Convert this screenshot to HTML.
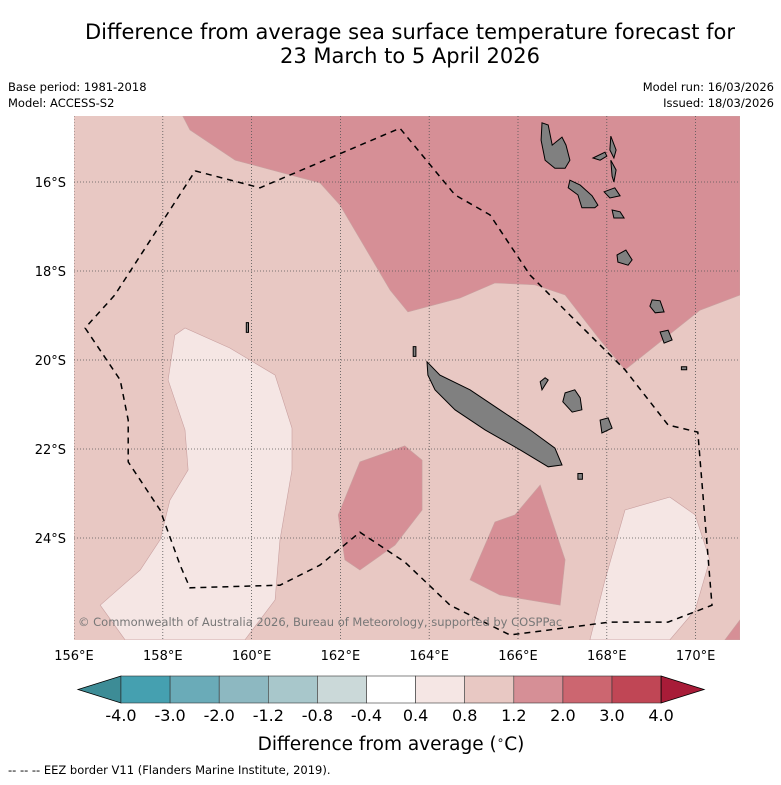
<!DOCTYPE html>
<html><head><meta charset="utf-8"><style>
body{margin:0;background:#fff;width:781px;height:781px;overflow:hidden;font-family:"DejaVu Sans",sans-serif}
svg text{font-family:"DejaVu Sans","Liberation Sans",sans-serif}
</style></head><body>
<svg id="chart" width="781" height="781" xmlns="http://www.w3.org/2000/svg">
<text x="410" y="39" font-size="21" text-anchor="middle">Difference from average sea surface temperature forecast for</text>
<text x="410" y="63" font-size="21" text-anchor="middle">23 March to 5 April 2026</text>
<text x="8" y="91" font-size="11.5">Base period: 1981-2018</text>
<text x="8" y="107" font-size="11.5">Model: ACCESS-S2</text>
<text x="774" y="91" font-size="11.5" text-anchor="end">Model run: 16/03/2026</text>
<text x="774" y="107" font-size="11.5" text-anchor="end">Issued: 18/03/2026</text>
<defs><clipPath id="mc"><rect x="74" y="116" width="666" height="524"/></clipPath></defs>
<g id="map" clip-path="url(#mc)"></g>
<text x="78" y="626" font-size="11.5" fill="#777">© Commonwealth of Australia 2026, Bureau of Meteorology, supported by COSPPac</text>
<g id="axes"></g>
<g id="cbar"></g>
<text x="391" y="750" font-size="18.5" text-anchor="middle">Difference from average (<tspan font-size="12" dy="-6">∘</tspan><tspan dy="6">C)</tspan></text>
<text x="8" y="774" font-size="11.5">--  --  -- EEZ border V11 (Flanders Marine Institute, 2019).</text>
</svg>
<script>
const NS="http://www.w3.org/2000/svg";
// Map data (lon °E, lat °S)
const lonTicks=[156,158,160,162,164,166,168,170];
const latTicks=[16,18,20,22,24];
const redNorthLon=[158.45,158.61,159.63,161.54,161.99,163.12,163.52,164.69,165.48,166.38,167.06,167.85,168.41,170.1,171.0,171.0];
const redNorthLat=[14.52,14.83,15.51,16.02,16.52,18.43,18.92,18.61,18.27,18.31,18.54,19.55,20.22,18.88,18.54,14.52];
const lightWestLon=[156.59,157.49,157.94,158.16,158.57,158.5,158.12,158.27,158.5,159.51,160.53,160.91,160.91,160.64,160.53,159.85,157.15];
const lightWestLat=[25.51,24.72,24.04,23.15,22.47,21.57,20.45,19.44,19.28,19.73,20.34,21.53,22.47,24.04,25.39,26.29,26.29];
const redMidLon=[161.95,162.1,162.44,163.23,163.84,163.84,163.45,162.44];
const redMidLat=[23.48,24.49,24.72,24.16,23.37,22.25,21.93,22.29];
const redSouthLon=[164.92,165.59,166.95,167.06,166.5,165.93,165.48];
const redSouthLat=[24.94,25.28,25.51,24.49,22.81,23.48,23.64];
const lightEastLon=[167.62,167.96,168.41,169.42,169.99,170.32,169.99,169.42];
const lightEastLat=[26.29,24.94,23.37,23.08,23.48,24.49,25.62,26.29];
const redCornerLon=[170.66,171,171];
const redCornerLat=[26.29,25.84,26.29];
const eezLon=[158.73,160.19,163.34,164.58,165.37,166.27,167.17,168.41,169.38,170.05,170.37,169.38,168.07,165.82,164.47,163.45,162.44,161.54,160.64,158.61,158.39,157.94,157.22,157.22,157.04,156.25,156.92,158.73];
const eezLat=[15.75,16.13,14.79,16.29,16.74,18.09,18.99,20.22,21.46,21.62,25.51,25.89,25.89,26.18,25.51,24.54,23.87,24.61,25.06,25.12,24.61,23.37,22.29,21.35,20.45,19.28,18.54,15.75];
const islands=[
 {name:"new-caledonia",lon:[163.95,164.24,164.92,165.59,166.27,166.83,166.99,166.68,166.05,165.26,164.58,164.13,163.97],lat:[20.04,20.34,20.67,21.12,21.57,21.98,22.36,22.4,22.02,21.57,21.12,20.67,20.34]},
 {name:"espiritu-santo",lon:[166.54,166.68,166.77,166.99,167.08,167.17,167.06,166.83,166.61,166.52],lat:[14.67,14.72,15.17,14.99,15.17,15.51,15.69,15.69,15.51,15.06]},
 {name:"malekula",lon:[167.17,167.4,167.67,167.8,167.73,167.44,167.35,167.13],lat:[15.96,16.07,16.31,16.52,16.58,16.58,16.29,16.13]},
 {name:"pentecost-north",lon:[168.09,168.21,168.16,168.07],lat:[14.97,15.28,15.46,15.28]},
 {name:"ambae",lon:[167.69,167.96,168.0,167.85],lat:[15.46,15.33,15.42,15.51]},
 {name:"maewo",lon:[168.09,168.21,168.16,168.12],lat:[15.51,15.73,16.0,15.87]},
 {name:"ambrym",lon:[167.94,168.18,168.3,168.07],lat:[16.22,16.13,16.31,16.36]},
 {name:"epi",lon:[168.12,168.3,168.39,168.16],lat:[16.63,16.67,16.81,16.81]},
 {name:"efate",lon:[168.23,168.43,168.57,168.48,168.25],lat:[17.64,17.53,17.75,17.87,17.8]},
 {name:"erromango",lon:[169.02,169.2,169.29,169.09,168.97],lat:[18.65,18.67,18.92,18.94,18.79]},
 {name:"tanna",lon:[169.2,169.38,169.47,169.29],lat:[19.37,19.33,19.55,19.62]},
 {name:"aneityum",lon:[169.68,169.8,169.8,169.68],lat:[20.15,20.15,20.22,20.22]},
 {name:"ouvea",lon:[166.5,166.61,166.68,166.54],lat:[20.49,20.4,20.45,20.67]},
 {name:"lifou",lon:[167.06,167.28,167.4,167.44,167.22,167.01],lat:[20.74,20.67,20.85,21.12,21.17,20.94]},
 {name:"mare",lon:[167.85,168.03,168.12,167.89],lat:[21.35,21.3,21.53,21.64]},
 {name:"isle-of-pines",lon:[167.35,167.45,167.45,167.35],lat:[22.55,22.55,22.68,22.68]},
 {name:"chesterfield",lon:[159.88,159.93,159.93,159.88],lat:[19.16,19.16,19.38,19.38]},
 {name:"belep",lon:[163.64,163.7,163.7,163.64],lat:[19.7,19.7,19.92,19.92]}
];
// Colorbar data
const cbTicks=["-4.0","-3.0","-2.0","-1.2","-0.8","-0.4","0.4","0.8","1.2","2.0","3.0","4.0"];
const cbColors=["#45a0b0","#6aabb8","#8db8c1","#a8c7cb","#cbd9d9","#ffffff","#f5e6e4","#e8c8c3","#d68f96","#cc6670","#c04655"];

const X=lon=>74+(lon-156)*44.4, Y=lat=>182+(lat-16)*44.5;
function el(t,a,p){const e=document.createElementNS(NS,t);for(const k in a)e.setAttribute(k,a[k]);p.appendChild(e);return e;}
function pts(lo,la){return lo.map((v,i)=>X(v).toFixed(1)+","+Y(la[i]).toFixed(1)).join(" ");}
const map=document.getElementById("map");
let bg=el("rect",{x:74,y:116,width:666,height:524,fill:"#e8c8c3"},map);


const regions=[["anomaly-red-north",redNorthLon,redNorthLat,"#d68f96"],["anomaly-light-west",lightWestLon,lightWestLat,"#f5e6e4"],["anomaly-red-mid",redMidLon,redMidLat,"#d68f96"],["anomaly-red-south",redSouthLon,redSouthLat,"#d68f96"],["anomaly-light-east",lightEastLon,lightEastLat,"#f5e6e4"],["anomaly-red-corner",redCornerLon,redCornerLat,"#d68f96"]];
for(const r of regions){const p=el("polygon",{points:pts(r[1],r[2]),fill:r[3],stroke:"#c9a0a0","stroke-width":0.6},map);

}
for(const t of lonTicks){const l=el("line",{x1:X(t),x2:X(t),y1:116,y2:640,stroke:"#555","stroke-width":0.8,"stroke-dasharray":"1,2"},map);

}
for(const t of latTicks){const l=el("line",{x1:74,x2:740,y1:Y(t),y2:Y(t),stroke:"#555","stroke-width":0.8,"stroke-dasharray":"1,2"},map);

}
for(const is of islands){const p=el("polygon",{points:pts(is.lon,is.lat),fill:"#808080",stroke:"#000","stroke-width":1},map);

}
const eez=el("polyline",{points:pts(eezLon,eezLat),fill:"none",stroke:"#000","stroke-width":1.5,"stroke-dasharray":"6,5"},map);


const ax=document.getElementById("axes");
for(const t of lonTicks){const s=el("text",{x:X(t),y:660,"font-size":13,"text-anchor":"middle"},ax);s.textContent=t+"°E";

}
for(const t of latTicks){const s=el("text",{x:66,y:Y(t)+5,"font-size":13,"text-anchor":"end"},ax);s.textContent=t+"°S";

}
const cb=document.getElementById("cbar");
const cx0=121,cw=49.1,cy=676,ch=27;
const lt=el("polygon",{points:`78,${cy+ch/2} ${cx0},${cy} ${cx0},${cy+ch}`,fill:"#3d8c96",stroke:"#000","stroke-width":0.8},cb);


cbColors.forEach((c,i)=>{const r=el("rect",{x:cx0+i*cw,y:cy,width:cw,height:ch,fill:c,stroke:"#333","stroke-width":0.6},cb);

});
const xe=cx0+cbColors.length*cw;
const rt=el("polygon",{points:`${xe},${cy} ${xe+43},${cy+ch/2} ${xe},${cy+ch}`,fill:"#a81c38",stroke:"#000","stroke-width":0.8},cb);


cbTicks.forEach((t,i)=>{const s=el("text",{x:cx0+i*cw,y:721,"font-size":16,"text-anchor":"middle"},cb);s.textContent=t;

});
</script>
</body></html>
